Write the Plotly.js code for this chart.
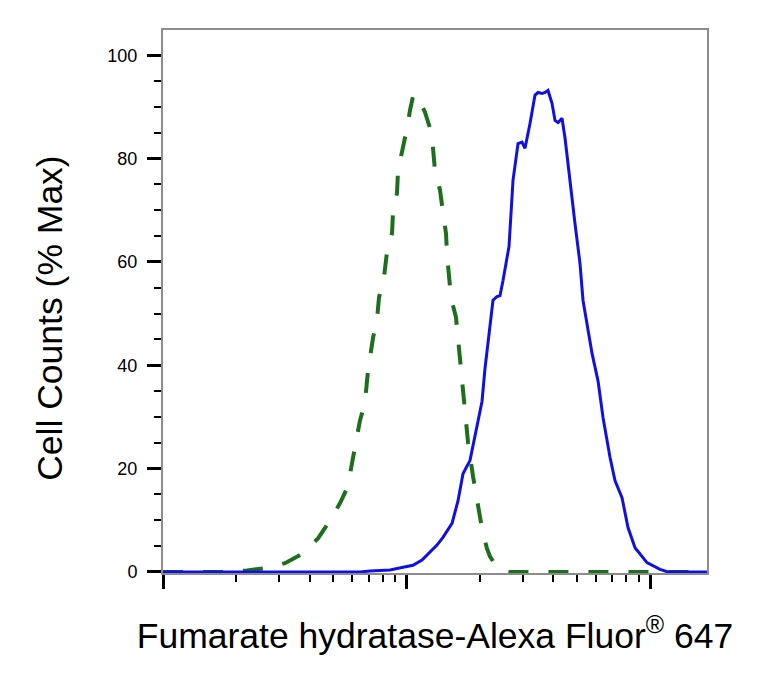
<!DOCTYPE html>
<html>
<head>
<meta charset="utf-8">
<script src="https://cdn.plot.ly/plotly-3.0.1.min.js"></script>
<style>html,body{margin:0;padding:0;background:#fff;}#chart{width:776px;height:682px;}</style>
</head>
<body>
<div id="chart"></div>
<script>
// Isotype control (green dashed)
const controlX = [10, 18.8, 22.1, 26.2, 31.7, 37.6, 43.3, 47.6, 53.3, 57.5, 59.7, 62.0, 64.4, 67.5, 69.5, 72.8, 75.7, 77.1, 80.8, 83.2, 87.2, 88.0, 91.4, 92.3, 95.8, 100.5, 103.4, 106.3, 110.4, 114.7, 119.1, 124.9, 128.5, 130.9, 137.3, 141.2, 145.3, 146.7, 149.5, 152.3, 159.7, 165.9, 172.3, 178.9, 187.6, 194.8, 204.2, 214.1, 220.3, 230.9, 244.4, 266.1, 321.5, 1714];
const controlY = [0, 0, 0.3, 0.7, 1.7, 3.6, 6.5, 9.4, 13.3, 16.6, 21, 24.9, 29.3, 32.8, 39, 45.2, 49, 53.1, 57, 62, 65.5, 69.6, 73.3, 77.7, 81.2, 85.9, 89.4, 92, 92.4, 90.5, 89, 85.9, 82, 77.7, 73.9, 69.6, 65.5, 61.5, 58, 53.1, 49.3, 41.3, 33.2, 25.1, 18.5, 13.8, 8.4, 4.5, 3, 1.5, 0.3, 0, 0, 0];
// Fumarate hydratase stained (blue solid)
const sampleX = [10, 64.4, 70.8, 85.6, 96.8, 106.3, 115.8, 124.9, 133.4, 141.2, 153.8, 162.8, 170.6, 182.3, 194.8, 204.2, 210.1, 220.3, 226.6, 235.3, 242.1, 249.1, 263.6, 273.8, 287.1, 298.1, 306.7, 321.5, 337.1, 346.8, 360.1, 370.5, 381.2, 395.9, 407.3, 419.0, 435.2, 447.7, 469.4, 492.1, 515.9, 530.7, 578.0, 611.7, 641.3, 685.1, 718.2, 767.4, 812.2, 868.0, 972.0, 1099, 1186, 1714];
const sampleY = [0, 0, 0.2, 0.4, 0.9, 1.3, 2.3, 3.8, 5.2, 6.7, 9.4, 13.8, 19, 21.6, 28, 33, 39.4, 47.3, 52.6, 53.3, 53.5, 56.4, 63, 75.8, 82.9, 83.2, 82, 86.8, 92.3, 92.8, 92.6, 92.8, 93.2, 90.7, 87.4, 87, 87.8, 84, 75.2, 67.4, 59.7, 52.6, 42.3, 37, 29.9, 22.2, 17.7, 14.4, 8.6, 4.7, 1.8, 0.5, 0, 0];

const xMajorTicks = [10, 100, 1000];
const xMinorTicks = [20, 30, 40, 50, 60, 70, 80, 90, 200, 300, 400, 500, 600, 700, 800, 900];
const yTickVals = [0, 20, 40, 60, 80, 100];
const yTickText = ['0', '20', '40', '60', '80', '100'];
const xTitle = 'Fumarate hydratase-Alexa Fluor<sup>®</sup> 647';
const yTitle = 'Cell Counts (% Max)';

const FONT = 'Arial, "Liberation Sans", sans-serif';

const traces = [
  {x: controlX, y: controlY, type: 'scatter', mode: 'lines', name: 'Isotype control',
   line: {color: '#1d6f1d', width: 4, dash: '20px,20px'}, hoverinfo: 'skip'},
  {x: sampleX, y: sampleY, type: 'scatter', mode: 'lines', name: 'Fumarate hydratase',
   line: {color: '#1010e6', width: 3}, hoverinfo: 'skip'}
];

const layout = {
  width: 776, height: 682,
  margin: {l: 163, r: 69, t: 30, b: 109, pad: 0},
  paper_bgcolor: '#fff', plot_bgcolor: '#fff',
  showlegend: false,
  font: {family: FONT, color: '#000'},
  xaxis: {
    type: 'log', range: [1, 3.2341],
    showgrid: false, zeroline: false,
    showline: true, linecolor: '#8c8c8c', linewidth: 2, mirror: true,
    tickmode: 'array', tickvals: xMajorTicks, showticklabels: false,
    ticks: 'outside', ticklen: 14, tickwidth: 3, tickcolor: '#000',
    minor: {tickmode: 'array', tickvals: xMinorTicks, ticks: 'outside', ticklen: 7, tickwidth: 2, tickcolor: '#000', showgrid: false},
    automargin: true,
    title: {text: xTitle, font: {family: FONT, size: 35.5, color: '#000'}, standoff: 35}
  },
  yaxis: {
    range: [-0.2, 104.9],
    showgrid: false, zeroline: false,
    showline: true, linecolor: '#8c8c8c', linewidth: 2, mirror: true,
    tickmode: 'array', tickvals: yTickVals, ticktext: yTickText,
    ticks: 'outside', ticklen: 14, tickwidth: 3, tickcolor: '#000',
    ticklabelstandoff: 6,
    tickfont: {family: FONT, size: 18, color: '#000'},
    minor: {dtick: 5, ticks: 'outside', ticklen: 7, tickwidth: 2, tickcolor: '#000', showgrid: false}
  },
  annotations: [{
    text: yTitle, xref: 'paper', yref: 'paper',
    x: -0.2077, y: 0.47, xanchor: 'center', yanchor: 'middle',
    textangle: -90, showarrow: false,
    font: {family: FONT, size: 35.5, color: '#000'}
  }]
};

Plotly.newPlot('chart', traces, layout, {displayModeBar: false, staticPlot: true});
</script>
</body>
</html>
